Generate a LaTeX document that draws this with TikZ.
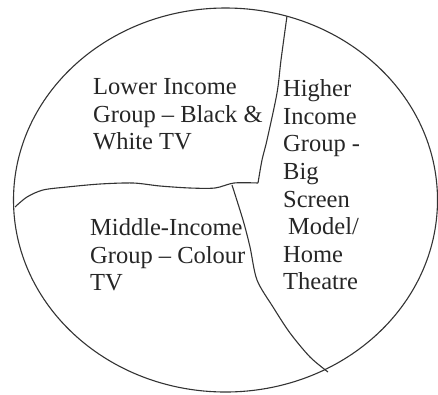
\documentclass[tikz,border=0pt]{standalone}
\usepackage{fontspec}
\setmainfont{Liberation Serif}
\begin{document}
\begin{tikzpicture}[x=1pt, y=-1pt,
    divline/.style={black!80, line width=1.1pt, line join=round},
    seglabel/.style={anchor=north west, inner sep=0pt, align=left, text=black!85,
        font=\fontsize{24.5}{27.6}\selectfont}]
    \useasboundingbox (0,0) rectangle (438,394);

    % Draw the outer circle (the whole market)
    \draw[divline] (225.5,200) ellipse [x radius=212, y radius=192];

    % Upper split line, running down from the rim to the corner
    \draw[divline] plot[smooth, tension=0.5] coordinates {(287,16) (281,60) (277,93) (267,140) (262,160) (258,183)};

    % Wavy split line across to the left rim
    \draw[divline] plot[smooth, tension=0.5] coordinates {(258,183) (234,183) (215,188) (190,188) (160,186) (133,183) (100,184) (67,187) (43,190) (27,197) (15,207)};

    % Lower split line, running down to the rim at the bottom right
    \draw[divline] plot[smooth, tension=0.5] coordinates {(232,185) (243,220) (250,247) (257,280) (273,307) (290,333) (310,357) (328,372)};

    % Segment labels
    \node[seglabel] (lower) at (93,78.5) {Lower Income\\Group -- Black \&\\White TV};
    \node[seglabel] (higher) at (283,79.5) {Higher\\Income\\Group -\\Big\\Screen\\\hspace{5pt}Model/\\Home\\Theatre};
    \node[seglabel] (middle) at (90,218.5) {Middle-Income\\Group -- Colour\\TV};
\end{tikzpicture}
\end{document}
